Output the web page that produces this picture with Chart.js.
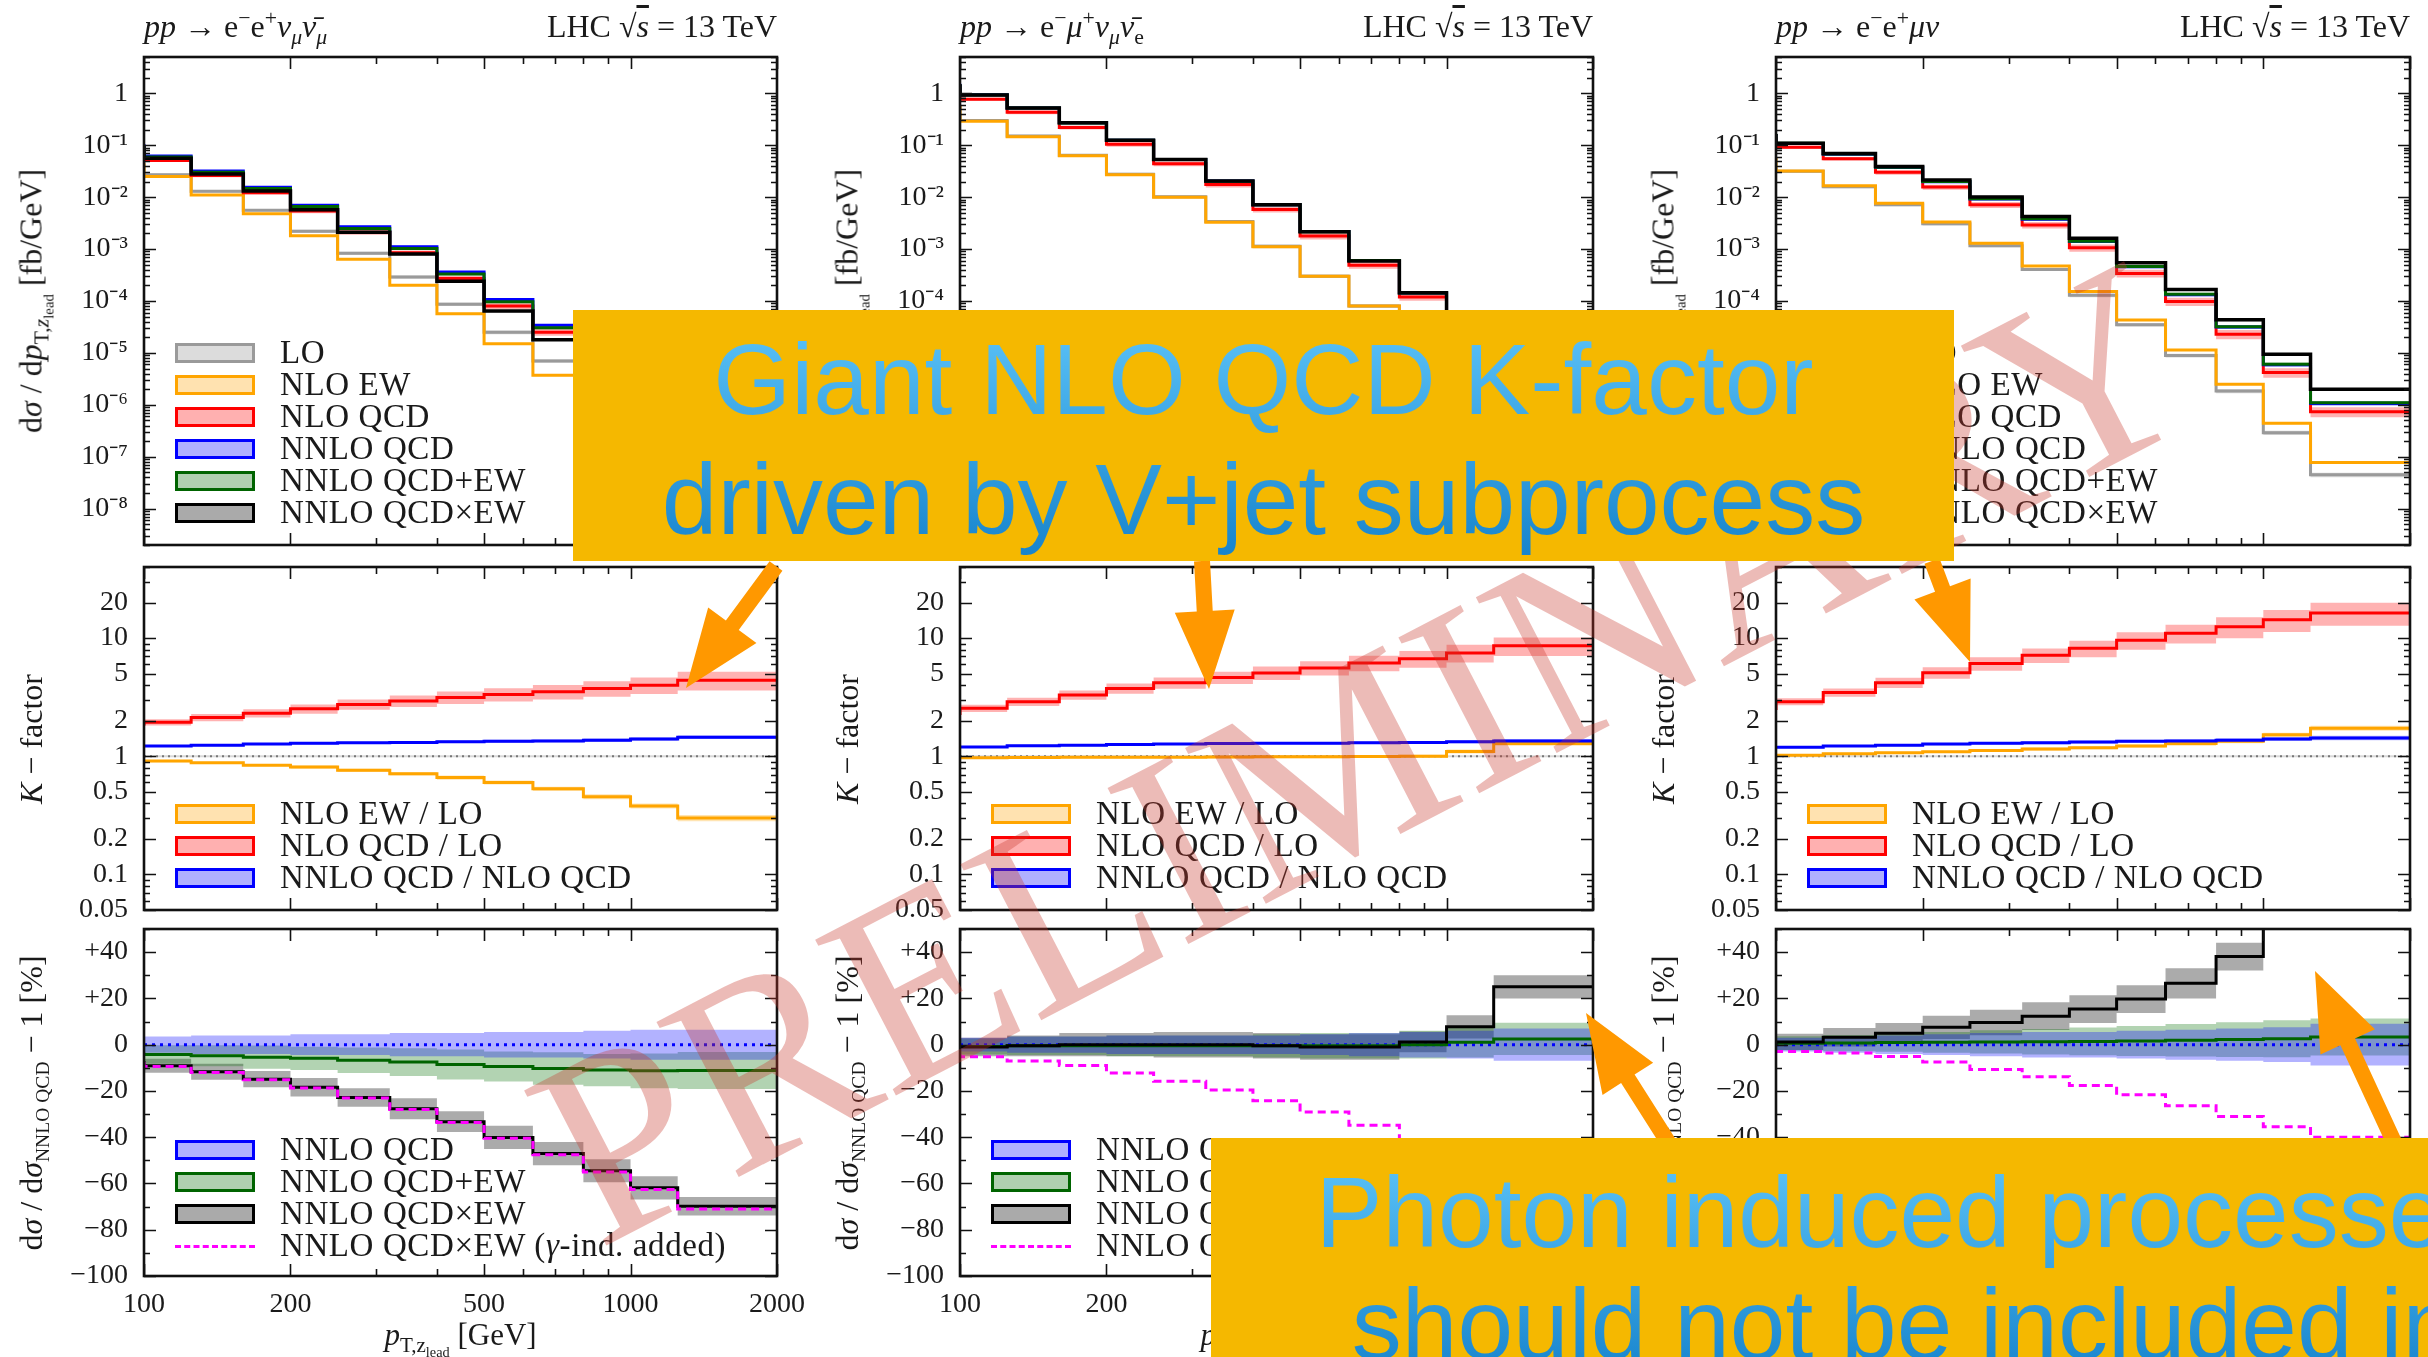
<!DOCTYPE html>
<html>
<head>
<meta charset="utf-8">
<script src="https://cdn.jsdelivr.net/npm/chart.js@4.4.1/dist/chart.umd.min.js"></script>
<style>
  html, body { margin: 0; padding: 0; }
  body { width: 2428px; height: 1357px; overflow: hidden; position: relative; background: #fff;
         font-family: "Liberation Serif", "DejaVu Serif", serif; color: #1a1a1a; }
  canvas { position: absolute; z-index: 1; }
  .txt { position: absolute; white-space: nowrap; z-index: 2; }
  .title { font-size: 32px; line-height: 36px; top: 8px; }
  .ytitle { font-size: 32px; transform: translate(-50%, -50%) rotate(-90deg); }
  .xtitle { font-size: 31px; transform: translate(-50%, -50%); }
  sub, sup { font-size: 0.68em; line-height: 0; }
  .sw { position: absolute; z-index: 2; width: 74px; height: 14px; border: 3px solid; }
  .dash { position: absolute; z-index: 2; width: 80px; height: 0; border-top: 3px dashed #ff00ff; }
  .lab { position: absolute; z-index: 2; font-size: 33px; letter-spacing: 0.6px; line-height: 32px; white-space: nowrap; }
  #wm { position: absolute; z-index: 3; left: 1363px; top: 752px; font-size: 268px; line-height: 1;
        transform: translate(-50%, -50%) rotate(-27.4deg); color: rgba(200, 55, 45, 0.34);
        white-space: nowrap; }
  svg { position: absolute; left: 0; top: 0; z-index: 4; }
  .msg { position: absolute; z-index: 5; background: #f5b800; overflow: hidden; }
  .msg div { position: absolute; left: 0; right: 0; text-align: center; white-space: nowrap;
             font-family: "Liberation Sans", Arial, sans-serif; font-size: 100px;
             background: linear-gradient(#5cc3f8, #1683cc); -webkit-background-clip: text;
             background-clip: text; color: transparent; }
</style>
</head>
<body>
<script>
// bin edges of p_T,Z_lead [GeV]
const edges = [100, 125, 160, 200, 250, 320, 400, 500, 630, 800, 1000, 1250, 1600, 2000];
const xTicks = [100, 200, 300, 400, 500, 600, 700, 800, 900, 1000, 2000];
const xLabels = [100, 200, 500, 1000, 2000];
const sigmaTicks = [1e-8, 1e-7, 1e-6, 1e-5, 1e-4, 1e-3, 1e-2, 1e-1, 1];
const kTicks = [0.05, 0.1, 0.2, 0.5, 1, 2, 5, 10, 20];
const relTicks = [-100, -80, -60, -40, -20, 0, 20, 40];

const topNames = ['LO', 'NLO EW', 'NLO QCD', 'NNLO QCD', 'NNLO QCD+EW', 'NNLO QCD×EW'];
const midNames = ['NLO EW / LO', 'NLO QCD / LO', 'NNLO QCD / NLO QCD'];
const botNames = ['NNLO QCD', 'NNLO QCD+EW', 'NNLO QCD×EW', 'NNLO QCD×EW (<i>γ</i>-ind. added)'];

const unity = [1, 1, 1, 1, 1, 1, 1, 1, 1, 1, 1, 1, 1];
const zero = [0, 0, 0, 0, 0, 0, 0, 0, 0, 0, 0, 0, 0];
const unityBand = [2, 2, 2, 2, 2, 2, 2, 2, 2, 2, 2, 2, 2];
const loBand = [6, 6, 6, 6, 7, 7, 7, 8, 8, 8, 9, 9, 10];

// pp -> e- e+ nu_mu nubar_mu
const zzLO = [5.0e-2, 2.7e-2, 1.3e-2, 5.6e-3, 2.2e-3, 8.3e-4, 2.9e-4, 8.7e-5, 2.5e-5, 7.0e-6, 1.9e-6, 4.8e-7, 1.2e-7];
const zzNloEW = [4.5e-2, 2.5e-2, 1.1e-2, 4.8e-3, 1.8e-3, 6.4e-4, 2.0e-4, 5.7e-5, 1.5e-5, 3.7e-6, 8.6e-7, 1.8e-7, 3.6e-8];
const zzNloQCD = [8.8e-2, 5.1e-2, 2.6e-2, 1.22e-2, 5.4e-3, 2.1e-3, 8.5e-4, 2.7e-4, 8.0e-5, 2.5e-5, 7.0e-6, 1.9e-6, 5.0e-7];
const zzNnloQCD = [1.05e-1, 6.2e-2, 3.2e-2, 1.55e-2, 7.0e-3, 2.7e-3, 1.11e-3, 3.6e-4, 1.07e-4, 3.4e-5, 9.6e-6, 2.6e-6, 7.2e-7];
const zzNnloPlus = [1.01e-1, 5.9e-2, 3.0e-2, 1.47e-2, 6.6e-3, 2.5e-3, 1.03e-3, 3.3e-4, 9.7e-5, 3.05e-5, 8.5e-6, 2.3e-6, 6.4e-7];
const zzNnloTimes = [9.7e-2, 5.6e-2, 2.8e-2, 1.32e-2, 5.7e-3, 2.1e-3, 8.0e-4, 2.4e-4, 6.4e-5, 1.8e-5, 4.4e-6, 1.0e-6, 2.2e-7];
const zzKEW = [0.93, 0.91, 0.88, 0.84, 0.81, 0.76, 0.71, 0.66, 0.60, 0.53, 0.455, 0.38, 0.30];
const zzKQCD = [1.82, 1.94, 2.13, 2.31, 2.52, 2.75, 2.94, 3.15, 3.34, 3.52, 3.75, 4.0, 4.4];
const zzKNNLO = [1.19, 1.22, 1.24, 1.27, 1.29, 1.30, 1.31, 1.33, 1.34, 1.35, 1.37, 1.40, 1.45];
const zzRelPlus = [-3.5, -4.2, -4.8, -5.4, -5.9, -6.7, -7.5, -8.6, -9.4, -10.3, -11.0, -11.3, -11.2];
const zzRelTimes = [-7.2, -9.1, -11.7, -14.9, -18.4, -22.8, -27.7, -33.3, -40.1, -47.1, -54.5, -61.9, -69.9];
const zzRelGamma = [-7.5, -9.4, -12.0, -15.2, -18.7, -23.1, -28.0, -33.6, -40.4, -47.6, -55.0, -62.6, -71.0];
const zzBandNnlo = [3.5, 3.5, 4, 4, 4.5, 4.5, 5, 5, 5.5, 5.5, 6, 6.5, 6.5];
const zzBandPlus = [4, 4, 4.5, 5, 5, 5.5, 6, 6.5, 6.5, 7, 7, 7.5, 8];
const zzBandTimes = [3, 3, 3.5, 3.5, 4, 4, 4.5, 4.5, 5, 5, 5, 5, 4];
const zzBandQcd = [5, 6, 7, 8, 9, 10, 11, 12, 13, 14, 15, 16, 18];
const zzBandEW = [2, 2, 2, 2, 3, 3, 3, 4, 4, 4, 5, 5, 6];

// pp -> e- mu+ nu_mu nubar_e
const wwLO = [0.60, 0.30, 0.15, 0.064, 0.0276, 0.0102, 3.4e-3, 1.13e-3, 3.0e-4, 8.0e-5, 2.2e-5, 5.5e-6, 1.3e-6];
const wwNloEW = [0.58, 0.29, 0.145, 0.063, 0.027, 0.010, 3.3e-3, 1.11e-3, 3.0e-4, 8.0e-5, 2.2e-5, 6.0e-6, 1.6e-6];
const wwNloQCD = [1.3, 0.77, 0.43, 0.22, 0.104, 0.044, 0.0175, 5.8e-3, 1.78e-3, 4.9e-4, 1.2e-4, 2.8e-5, 6.5e-6];
const wwNnloQCD = [1.52, 0.94, 0.52, 0.27, 0.125, 0.053, 0.0204, 7.1e-3, 2.17e-3, 6.0e-4, 1.42e-4, 3.35e-5, 8.0e-6];
const wwNnloPlus = [1.50, 0.93, 0.52, 0.269, 0.124, 0.053, 0.0203, 7.1e-3, 2.16e-3, 6.0e-4, 1.42e-4, 3.4e-5, 8.2e-6];
const wwNnloTimes = [1.50, 0.93, 0.52, 0.27, 0.125, 0.053, 0.0204, 7.1e-3, 2.15e-3, 5.9e-4, 1.44e-4, 3.6e-5, 1.0e-5];
const wwKEW = [0.97, 0.97, 0.975, 0.98, 0.98, 0.98, 0.985, 0.99, 0.99, 0.995, 1.0, 1.10, 1.28];
const wwKQCD = [2.24, 2.55, 2.9, 3.3, 3.75, 4.19, 4.64, 5.08, 5.6, 6.17, 6.7, 7.5, 8.6];
const wwKNNLO = [1.19, 1.20, 1.23, 1.24, 1.26, 1.27, 1.28, 1.29, 1.29, 1.30, 1.31, 1.33, 1.35];
const wwRelPlus = [-1, -0.8, -0.5, -0.5, -0.5, -0.5, -0.5, -0.5, -0.5, -0.5, 0, 1, 2.5];
const wwRelTimes = [-1, -1, -0.5, 0, 0, 0, 0, -0.5, -1, -1, 1.2, 7.7, 25];
const wwRelGamma = [-3.9, -5.2, -7.1, -9, -12.2, -15.8, -19.6, -24.2, -29.1, -34.8, -41, -48, -55];
const wwBandNnlo = [3, 3, 3.5, 3.5, 4, 4, 4, 4, 4.5, 5, 5.5, 6, 7];
const wwBandPlus = [3.5, 3.5, 4, 4, 4.5, 4.5, 4.5, 5, 5.5, 5.5, 6, 6.5, 7];
const wwBandTimes = [3.5, 4, 4.5, 5, 5, 5.5, 5.5, 5.5, 5.5, 5.5, 4.5, 5, 5];
const wwBandQcd = [6, 7, 8, 9, 10, 11, 12, 13, 14, 15, 16, 17, 18];
const wwBandEW = [2, 2, 2, 2, 2, 2, 3, 3, 3, 3, 3, 4, 4];

// pp -> e- e+ mu nu
const wzLO = [5.75e-2, 3.14e-2, 1.58e-2, 7.1e-3, 3.06e-3, 1.16e-3, 4.06e-4, 1.29e-4, 3.5e-5, 8.9e-6, 1.84e-6, 2.9e-7, 4.5e-8];
const wzNloEW = [5.75e-2, 3.2e-2, 1.66e-2, 7.6e-3, 3.34e-3, 1.3e-3, 4.7e-4, 1.52e-4, 4.3e-5, 1.14e-5, 2.5e-6, 4.4e-7, 7.8e-8];
const wzNloQCD = [0.142, 0.091, 0.055, 0.030, 0.0156, 7.1e-3, 2.9e-3, 1.06e-3, 3.4e-4, 9.8e-5, 2.3e-5, 4.2e-6, 7.4e-7];
const wzNnloQCD = [0.165, 0.108, 0.067, 0.0372, 0.0198, 9.2e-3, 3.77e-3, 1.4e-3, 4.56e-4, 1.32e-4, 3.15e-5, 5.9e-6, 1.06e-6];
const wzNnloPlus = [0.1655, 0.1087, 0.0675, 0.0375, 0.0200, 9.3e-3, 3.82e-3, 1.42e-3, 4.63e-4, 1.35e-4, 3.2e-5, 6.05e-6, 1.1e-6];
const wzNnloTimes = [0.165, 0.109, 0.069, 0.039, 0.0213, 0.0101, 4.23e-3, 1.62e-3, 5.46e-4, 1.67e-4, 4.35e-5, 9.4e-6, 2.0e-6];
const wzKEW = [1.0, 1.02, 1.05, 1.07, 1.09, 1.12, 1.15, 1.18, 1.22, 1.28, 1.34, 1.52, 1.73];
const wzKQCD = [2.47, 2.9, 3.47, 4.2, 5.1, 6.1, 7.15, 8.2, 9.6, 11.0, 12.5, 14.3, 16.3];
const wzKNNLO = [1.16, 1.19, 1.22, 1.24, 1.27, 1.29, 1.30, 1.32, 1.34, 1.35, 1.37, 1.40, 1.43];
const wzRelPlus = [0.3, 0.6, 0.7, 0.9, 1.0, 1.2, 1.3, 1.4, 1.6, 1.9, 2.2, 2.6, 3.3];
const wzRelTimes = [0, 1.2, 3.2, 4.9, 7.5, 9.6, 12.3, 15.4, 19.7, 26.5, 38.1, 60, 85];
const wzRelGamma = [-2.5, -2.9, -3.6, -5.1, -7.5, -10.7, -13.9, -17.7, -21.7, -26.4, -31, -35.5, -40];
const wzBandNnlo = [3, 3, 3.5, 4, 4.5, 5, 5.5, 5.5, 6, 6.5, 7, 7.5, 9];
const wzBandPlus = [3, 3, 3.5, 4, 4.5, 5, 5.5, 6, 6.5, 7, 7.5, 8, 8];
const wzBandTimes = [3, 3.5, 4, 4.5, 5, 5.5, 6, 6, 6, 6.5, 6, 6, 6];
const wzBandQcd = [6, 7, 8, 10, 11, 13, 14, 16, 17, 18, 20, 21, 22];
const wzBandEW = [2, 2, 2, 2, 2, 3, 3, 3, 3, 4, 4, 4, 5];

// ---- layout (page pixels) ----
const colL = [144, 960, 1776], colR = [777, 1593, 2410];
const rowT = [57, 567, 929], rowB = [545, 910, 1276];

const line = {lo: '#9a9a9a', ew: '#ffa500', qcd: '#ff0000', nnlo: '#0000ff', plus: '#006400', times: '#000000', gamma: '#ff00ff'};
const band = {lo: 'rgba(128,128,128,0.3)', ew: 'rgba(255,165,0,0.3)', qcd: 'rgba(255,0,0,0.3)',
              nnlo: 'rgba(0,0,255,0.3)', plus: 'rgba(0,110,0,0.3)', times: 'rgba(0,0,0,0.33)'};
const swatch = {lo: '#dcdcdc', ew: '#ffe2b0', qcd: '#ffb0b0', nnlo: '#b0b0ff', plus: '#b0d0b0', times: '#aaaaaa'};
const tickFont = {family: 'Liberation Serif', size: 28};

const steps = v => edges.map((e, i) => ({x: e, y: v[Math.min(i, v.length - 1)]}));
const mul = (v, p, s) => v.map((y, i) => y * (1 + s * p[i] / 100));
const add = (v, p, s) => v.map((y, i) => y + s * p[i]);

function series(list, vals, key, lo, hi, opts) {
  if (lo) {
    list.push({data: steps(hi), borderWidth: 0, pointRadius: 0, stepped: 'after', fill: false, order: 50});
    list.push({data: steps(lo), borderWidth: 0, pointRadius: 0, stepped: 'after', fill: '-1',
               backgroundColor: band[key], order: 50});
  }
  list.push(Object.assign({data: steps(vals), borderColor: line[key], borderWidth: 3, pointRadius: 0,
                           stepped: 'after', fill: false, order: 10}, opts || {}));
}

const SUP = {'-': '⁻', '0': '⁰', '1': '¹', '2': '²', '3': '³', '4': '⁴', '5': '⁵', '6': '⁶', '7': '⁷', '8': '⁸', '9': '⁹'};
function decade(v) {
  const k = Math.round(Math.log10(v));
  if (k === 0) return '1';
  return '10' + String(k).split('').map(c => SUP[c]).join('');
}
const near = (list, v) => list.some(t => Math.abs(t - v) / Math.abs(t) < 1e-6);

// inward tick marks on all four sides + frame, drawn from the scales' ticks
const framePlugin = {
  id: 'frame',
  afterDatasetsDraw(chart) {
    const {ctx, chartArea: a, scales} = chart;
    ctx.save();
    ctx.strokeStyle = '#111';
    ctx.lineWidth = 1.6;
    ctx.beginPath();
    for (const t of scales.y.ticks) {
      const p = Math.round(scales.y.getPixelForValue(t.value)) + 0.5;
      if (p < a.top - 1 || p > a.bottom + 1) continue;
      const len = t.label ? 12 : 6;
      ctx.moveTo(a.left, p); ctx.lineTo(a.left + len, p);
      ctx.moveTo(a.right, p); ctx.lineTo(a.right - len, p);
    }
    for (const t of scales.x.ticks) {
      const p = Math.round(scales.x.getPixelForValue(t.value)) + 0.5;
      const len = xLabels.includes(t.value) ? 12 : 7;
      ctx.moveTo(p, a.bottom); ctx.lineTo(p, a.bottom - len);
      ctx.moveTo(p, a.top); ctx.lineTo(p, a.top + len);
    }
    ctx.stroke();
    ctx.lineWidth = 2.6;
    ctx.strokeRect(a.left, a.top, a.right - a.left, a.bottom - a.top);
    ctx.restore();
  }
};

function makePanel(col, row, datasets, yScale) {
  const L = colL[col], R = colR[col], T = rowT[row], B = rowB[row];
  const padR = 40, padT = 40, padB = row === 2 ? 0 : 40, xH = row === 2 ? 50 : 0;
  const cv = document.createElement('canvas');
  cv.width = R - L + 144 + padR;
  cv.height = B - T + padT + padB + xH;
  cv.style.left = (L - 144) + 'px';
  cv.style.top = (T - padT) + 'px';
  document.body.appendChild(cv);
  new Chart(cv, {
    type: 'line',
    data: {datasets},
    options: {
      responsive: false, animation: false, devicePixelRatio: 1,
      layout: {padding: {left: 0, right: padR, top: padT, bottom: padB}},
      plugins: {legend: {display: false}, tooltip: {enabled: false}},
      scales: {
        x: {
          type: 'logarithmic', min: 100, max: 2000,
          afterBuildTicks: s => { s.ticks = xTicks.map(v => ({value: v})); },
          afterFit: s => { s.height = xH; },
          grid: {display: false, drawTicks: false}, border: {display: false},
          ticks: {display: row === 2, autoSkip: false, maxRotation: 0, padding: 12, font: tickFont, color: '#1a1a1a',
                  callback: v => xLabels.includes(v) ? String(v) : ''}
        },
        y: Object.assign({
          afterFit: s => { s.width = 144; },
          grid: {display: false, drawTicks: false}, border: {display: false}
        }, yScale)
      }
    },
    plugins: [framePlugin]
  });
}

function logTicks(lo, hi) {
  const out = [];
  for (let k = -10; k <= 2; k++) for (let m = 1; m <= 9; m++) {
    const v = m * Math.pow(10, k);
    if (v >= lo * 0.999 && v <= hi * 1.001) out.push(v);
  }
  return out;
}

const sigmaY = {
  type: 'logarithmic', min: 2e-9, max: 5,
  afterBuildTicks: s => { s.ticks = logTicks(2e-9, 5).map(v => ({value: v})); },
  ticks: {autoSkip: false, padding: 16, font: tickFont, color: '#1a1a1a',
          callback: v => near(sigmaTicks, v) ? decade(v) : ''}
};
const kY = {
  type: 'logarithmic', min: 0.05, max: 40,
  afterBuildTicks: s => { s.ticks = logTicks(0.05, 40).map(v => ({value: v})); },
  ticks: {autoSkip: false, padding: 16, font: tickFont, color: '#1a1a1a',
          callback: v => near(kTicks, v) ? String(+v.toPrecision(3)) : ''}
};
const relY = {
  type: 'linear', min: -100, max: 50,
  afterBuildTicks: s => { const t = []; for (let v = -100; v <= 50; v += 10) t.push({value: v}); s.ticks = t; },
  ticks: {autoSkip: false, padding: 16, font: tickFont, color: '#1a1a1a',
          callback: v => relTicks.includes(v) ? (v > 0 ? '+' + v : v < 0 ? '−' + (-v) : '0') : ''}
};

const cols = [
  {lo: zzLO, ew: zzNloEW, qcd: zzNloQCD, nnlo: zzNnloQCD, plus: zzNnloPlus, times: zzNnloTimes,
   kEW: zzKEW, kQCD: zzKQCD, kNNLO: zzKNNLO, rPlus: zzRelPlus, rTimes: zzRelTimes, rGamma: zzRelGamma,
   bN: zzBandNnlo, bP: zzBandPlus, bT: zzBandTimes, bQ: zzBandQcd, bE: zzBandEW},
  {lo: wwLO, ew: wwNloEW, qcd: wwNloQCD, nnlo: wwNnloQCD, plus: wwNnloPlus, times: wwNnloTimes,
   kEW: wwKEW, kQCD: wwKQCD, kNNLO: wwKNNLO, rPlus: wwRelPlus, rTimes: wwRelTimes, rGamma: wwRelGamma,
   bN: wwBandNnlo, bP: wwBandPlus, bT: wwBandTimes, bQ: wwBandQcd, bE: wwBandEW},
  {lo: wzLO, ew: wzNloEW, qcd: wzNloQCD, nnlo: wzNnloQCD, plus: wzNnloPlus, times: wzNnloTimes,
   kEW: wzKEW, kQCD: wzKQCD, kNNLO: wzKNNLO, rPlus: wzRelPlus, rTimes: wzRelTimes, rGamma: wzRelGamma,
   bN: wzBandNnlo, bP: wzBandPlus, bT: wzBandTimes, bQ: wzBandQcd, bE: wzBandEW}
];

cols.forEach((d, c) => {
  // cross sections
  const top = [];
  series(top, d.lo, 'lo', mul(d.lo, loBand, -1), mul(d.lo, loBand, 1), {order: 16, borderWidth: 3});
  series(top, d.ew, 'ew', mul(d.ew, d.bE, -1), mul(d.ew, d.bE, 1), {order: 15});
  series(top, d.qcd, 'qcd', mul(d.qcd, d.bQ, -1), mul(d.qcd, d.bQ, 1), {order: 14});
  series(top, d.nnlo, 'nnlo', mul(d.nnlo, d.bN, -1), mul(d.nnlo, d.bN, 1), {order: 13});
  series(top, d.plus, 'plus', mul(d.plus, d.bP, -1), mul(d.plus, d.bP, 1), {order: 12});
  series(top, d.times, 'times', mul(d.times, d.bT, -1), mul(d.times, d.bT, 1), {order: 11, borderWidth: 3.5});
  makePanel(c, 0, top, sigmaY);

  // K-factors
  const mid = [];
  series(mid, unity, 'lo', mul(unity, unityBand, -1), mul(unity, unityBand, 1),
         {order: 16, borderWidth: 2, borderDash: [2, 4], borderColor: '#777'});
  series(mid, d.kEW, 'ew', mul(d.kEW, d.bE, -1), mul(d.kEW, d.bE, 1), {order: 15});
  series(mid, d.kQCD, 'qcd', mul(d.kQCD, d.bQ, -1), mul(d.kQCD, d.bQ, 1), {order: 14});
  series(mid, d.kNNLO, 'nnlo', mul(d.kNNLO, d.bN, -0.5), mul(d.kNNLO, d.bN, 0.5), {order: 13});
  makePanel(c, 1, mid, kY);

  // relative to NNLO QCD
  const bot = [];
  series(bot, zero, 'nnlo', add(zero, d.bN, -1), add(zero, d.bN, 1), {order: 14, borderDash: [3, 5]});
  series(bot, d.rPlus, 'plus', add(d.rPlus, d.bP, -1), add(d.rPlus, d.bP, 1), {order: 13});
  series(bot, d.rTimes, 'times', add(d.rTimes, d.bT, -1), add(d.rTimes, d.bT, 1), {order: 12});
  series(bot, d.rGamma, 'gamma', null, null, {order: 11, borderDash: [8, 5]});
  makePanel(c, 2, bot, relY);
});

// ---- text: titles, axis titles, legends ----
function addHTML(cls, html, css) {
  const el = document.createElement('div');
  el.className = cls;
  el.innerHTML = html;
  Object.assign(el.style, css);
  document.body.appendChild(el);
  return el;
}
const procTitles = [
  '<i>pp</i> → e<sup>−</sup>e<sup>+</sup><i>ν</i><sub><i>μ</i></sub><i>ν̄</i><sub><i>μ</i></sub>',
  '<i>pp</i> → e<sup>−</sup><i>μ</i><sup>+</sup><i>ν</i><sub><i>μ</i></sub><i>ν̄</i><sub>e</sub>',
  '<i>pp</i> → e<sup>−</sup>e<sup>+</sup><i>μν</i>'
];
const lhc = 'LHC √<span style="text-decoration:overline"><i>s</i></span> = 13 TeV';
const yTitles = [
  'd<i>σ</i> / d<i>p</i><sub>T,<i>z</i><sub>lead</sub></sub> [fb/GeV]',
  '<i>K</i> − factor',
  'd<i>σ</i> / d<i>σ</i><sub><span style="font-size:0.9em">NNLO QCD</span></sub> − 1 [%]'
];
const xTitle = '<i>p</i><sub>T,z<sub>lead</sub></sub> [GeV]';

const legRows = [
  {names: topNames, keys: ['lo', 'ew', 'qcd', 'nnlo', 'plus', 'times'], start: 296},
  {names: midNames, keys: ['ew', 'qcd', 'nnlo'], start: 247},
  {names: botNames, keys: ['nnlo', 'plus', 'times', 'gamma'], start: 221}
];

for (let c = 0; c < 3; c++) {
  const L = colL[c], R = colR[c];
  addHTML('txt title', procTitles[c], {left: L + 'px'});
  addHTML('txt title', lhc, {left: R + 'px', transform: 'translateX(-100%)'});
  for (let r = 0; r < 3; r++) {
    addHTML('txt ytitle', yTitles[r], {left: (L - 113) + 'px', top: ((rowT[r] + rowB[r]) / 2) + 'px'});
    const g = legRows[r];
    g.names.forEach((n, i) => {
      const y = rowT[r] + g.start + i * 32;
      const k = g.keys[i];
      if (k === 'gamma') {
        addHTML('dash', '', {left: (L + 31) + 'px', top: (y - 1) + 'px'});
      } else {
        addHTML('sw', '', {left: (L + 31) + 'px', top: (y - 10) + 'px', borderColor: line[k], background: swatch[k]});
      }
      addHTML('lab', n, {left: (L + 136) + 'px', top: (y - 17) + 'px'});
    });
  }
  addHTML('txt xtitle', xTitle, {left: ((L + R) / 2) + 'px', top: '1335px'});
}

// ---- watermark, arrows, message boxes ----
addHTML('', 'PRELIMINARY', {}).id = 'wm';

const arrows = [[776, 566, 686, 688], [1202, 561, 1209, 689], [1932, 561, 1970, 662], [1668, 1142, 1586, 1013], [2394, 1142, 2315, 971]];
const svgNS = 'http://www.w3.org/2000/svg';
const svg = document.createElementNS(svgNS, 'svg');
svg.setAttribute('width', 2428); svg.setAttribute('height', 1357);
arrows.forEach(([x1, y1, x2, y2]) => {
  const len = Math.hypot(x2 - x1, y2 - y1), ux = (x2 - x1) / len, uy = (y2 - y1) / len, nx = -uy, ny = ux;
  const sw = 8, hw = 30, hl = 78;
  const bx = x2 - ux * hl, by = y2 - uy * hl;
  const pts = [[x1 + nx * sw, y1 + ny * sw], [bx + nx * sw, by + ny * sw], [bx + nx * hw, by + ny * hw], [x2, y2],
               [bx - nx * hw, by - ny * hw], [bx - nx * sw, by - ny * sw], [x1 - nx * sw, y1 - ny * sw]];
  const p = document.createElementNS(svgNS, 'polygon');
  p.setAttribute('points', pts.map(q => q.join(',')).join(' '));
  p.setAttribute('fill', '#ff9800');
  svg.appendChild(p);
});
document.body.appendChild(svg);

const box1 = addHTML('msg', '', {left: '573px', top: '310px', width: '1381px', height: '251px'});
box1.innerHTML = '<div style="top:9px;line-height:120px">Giant NLO QCD K-factor<br>driven by V+jet subprocess</div>';
const box2 = addHTML('msg', '', {left: '1211px', top: '1138px', width: '1388px', height: '260px'});
box2.innerHTML = '<div style="top:18px;line-height:112px">Photon induced processes<br>should not be included in</div>';
</script>
</body>
</html>
